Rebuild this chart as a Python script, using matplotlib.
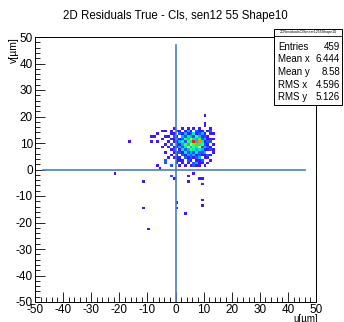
import matplotlib
matplotlib.use('Agg')
import matplotlib.pyplot as plt
import matplotlib.patches as mplpatches
from matplotlib.colors import LinearSegmentedColormap
import numpy as np

plt.rcParams['font.family'] = ['Liberation Sans', 'DejaVu Sans']
plt.rcParams['axes.unicode_minus'] = False

# counts per 1um bin, columns u=-5..13, rows v=16 down to 1
u_start = -5
v_rows = [16, 15, 14, 13, 12, 11, 10, 9, 8, 7, 6, 5, 4, 3, 2, 1]
grid = [
    [0, 0, 0, 0, 0, 0, 0, 0, 0, 0, 0, 0, 0, 0, 0, 1, 0, 0, 0],
    [0, 0, 0, 0, 1, 0, 0, 1, 0, 1, 0, 1, 0, 1, 0, 0, 0, 1, 0],
    [1, 1, 0, 1, 0, 2, 1, 0, 1, 3, 1, 0, 2, 1, 1, 0, 1, 2, 0],
    [0, 0, 0, 1, 1, 0, 2, 1, 3, 1, 2, 4, 1, 2, 3, 1, 0, 1, 1],
    [0, 1, 1, 0, 2, 1, 0, 3, 2, 4, 3, 2, 5, 3, 1, 2, 1, 0, 0],
    [1, 0, 0, 1, 1, 3, 1, 2, 5, 3, 6, 4, 3, 5, 2, 3, 1, 1, 1],
    [0, 0, 1, 0, 1, 1, 3, 4, 2, 5, 4, 8, 3, 7, 4, 1, 2, 2, 0],
    [0, 1, 0, 2, 0, 2, 1, 3, 5, 3, 6, 5, 7, 4, 5, 2, 1, 0, 1],
    [0, 0, 1, 0, 1, 1, 3, 2, 4, 6, 3, 5, 4, 6, 2, 3, 2, 1, 0],
    [0, 0, 0, 1, 2, 0, 1, 4, 2, 3, 5, 4, 3, 4, 3, 1, 1, 2, 1],
    [0, 1, 0, 0, 1, 2, 2, 1, 4, 2, 3, 2, 4, 2, 2, 3, 0, 0, 1],
    [0, 0, 0, 1, 0, 1, 0, 2, 1, 3, 2, 3, 1, 2, 1, 1, 2, 1, 0],
    [0, 0, 1, 0, 1, 1, 1, 0, 2, 1, 2, 1, 2, 3, 0, 1, 1, 0, 0],
    [0, 1, 0, 0, 0, 1, 1, 1, 0, 2, 1, 0, 1, 1, 2, 0, 0, 1, 0],
    [0, 1, 0, 0, 0, 1, 0, 1, 0, 1, 0, 2, 3, 1, 1, 0, 1, 0, 0],
    [0, 0, 0, 1, 0, 0, 1, 0, 1, 0, 1, 2, 1, 1, 0, 1, 0, 0, 0],
]

# isolated single entries
outlier_u = [-16.8, -21.6, -8.9, -6.7, -8.9, -7.1, -6.5, -4.7, -3.8, -3.8, -6.7, -5.9,
             -1.8, -11.8, -11.8, -9.7, 3.3, 9.2, 9.2, 4.1, 4.1, 8.9, 9.6, 9.2, 0.3, 0.3,
             -1.6, -1.6, -0.6, 6.1, 10.0, 10.0]
outlier_v = [10.3, -1.7, 10.3, 10.3, 12.2, 12.2, 13.4, 8.4, 2.1, 3.1, 1.4, 0.4,
             1.0, -4.8, -14.6, -22.8, -16.8, -11.8, -13.7, -2.7, -4.8, -3.8, -3.8, -5.8, -12.8, -14.6,
             -2.7, -2.7, -4.0, -1.8, 20.2, 17.3]

stat_names = ['Entries', 'Mean x', 'Mean y', 'RMS x', 'RMS y']
stat_values = ['459', '6.444', '8.58', '4.596', '5.126']

us, vs, ws = [], [], []
for r, row in enumerate(grid):
    for c, n in enumerate(row):
        if n > 0:
            us.append(u_start + c + 0.5)
            vs.append(v_rows[r] + 0.5)
            ws.append(n)
us += outlier_u
vs += outlier_v
ws += [1] * len(outlier_u)

root_pal = LinearSegmentedColormap.from_list('rootpal', [
    (0.0, '#6a00ff'), (0.125, '#3a1aff'), (0.3, '#1070ff'), (0.42, '#00d8ff'),
    (0.58, '#00ff70'), (0.74, '#d8ff00'), (0.87, '#ff9a00'), (1.0, '#ff1a00')])

fig = plt.figure(figsize=(3.44, 3.22), dpi=100)
ax = fig.add_axes([35/344, 20/322, 281/344, 265/322])

edges = np.arange(-50, 51, 1)
ax.hist2d(us, vs, bins=[edges, edges], weights=ws, cmap=root_pal, cmin=0.5, vmin=0, vmax=8)

ax.plot([-47, 46], [0, 0], color='#4a7fc1', lw=1.2)
ax.plot([0, 0], [-50, 47], color='#4a7fc1', lw=1.2)

ax.set_xlim(-50, 50)
ax.set_ylim(-50, 50)
ax.set_xticks(np.arange(-50, 51, 10))
ax.set_yticks(np.arange(-50, 51, 10))
ax.set_xticks(np.arange(-50, 51, 2), minor=True)
ax.set_yticks(np.arange(-50, 51, 2), minor=True)
ax.tick_params(which='major', direction='in', length=7, width=0.6, labelsize=8.5, pad=1.5,
               top=False, right=False)
ax.tick_params(which='minor', direction='in', length=3.5, width=0.6, top=False, right=False)
for s in ax.spines.values():
    s.set_linewidth(0.7)

fig.text(175/344, 1 - 16/322, '2D Residuals True - Cls, sen12 55 Shape10', ha='center', va='center', fontsize=8.3)
fig.text(14/344, 1 - 37/322, 'v[\u00b5m]', rotation=90, ha='center', va='top', fontsize=7.5)
fig.text(318/344, 1 - 314/322, 'u[\u00b5m]', ha='right', va='top', fontsize=7)

# stats box
bx0, bx1 = 274/344, 342/344
by_top, by_hdr, by_bot = 1 - 29/322, 1 - 36/322, 1 - 105/322
fig.patches.append(mplpatches.Rectangle((bx0, by_bot), bx1 - bx0, by_top - by_bot,
                                        transform=fig.transFigure, facecolor='white',
                                        edgecolor='black', lw=0.7, zorder=5))
fig.add_artist(plt.Line2D([bx0, bx1], [by_hdr, by_hdr], transform=fig.transFigure,
                          color='black', lw=0.6, zorder=6))
fig.text((bx0 + bx1) / 2, (by_top + by_hdr) / 2, '2DResidualsClSmear1255Shape10',
         ha='center', va='center', fontsize=2.6, zorder=7)
for i in range(len(stat_names)):
    yy = 1 - (47 + i * 12.5) / 322
    fig.text(bx0 + 4/344, yy, stat_names[i], ha='left', va='center', fontsize=7, zorder=7)
    fig.text(bx1 - 2/344, yy, stat_values[i], ha='right', va='center', fontsize=7, zorder=7)

fig.savefig('out.png', dpi=100)
